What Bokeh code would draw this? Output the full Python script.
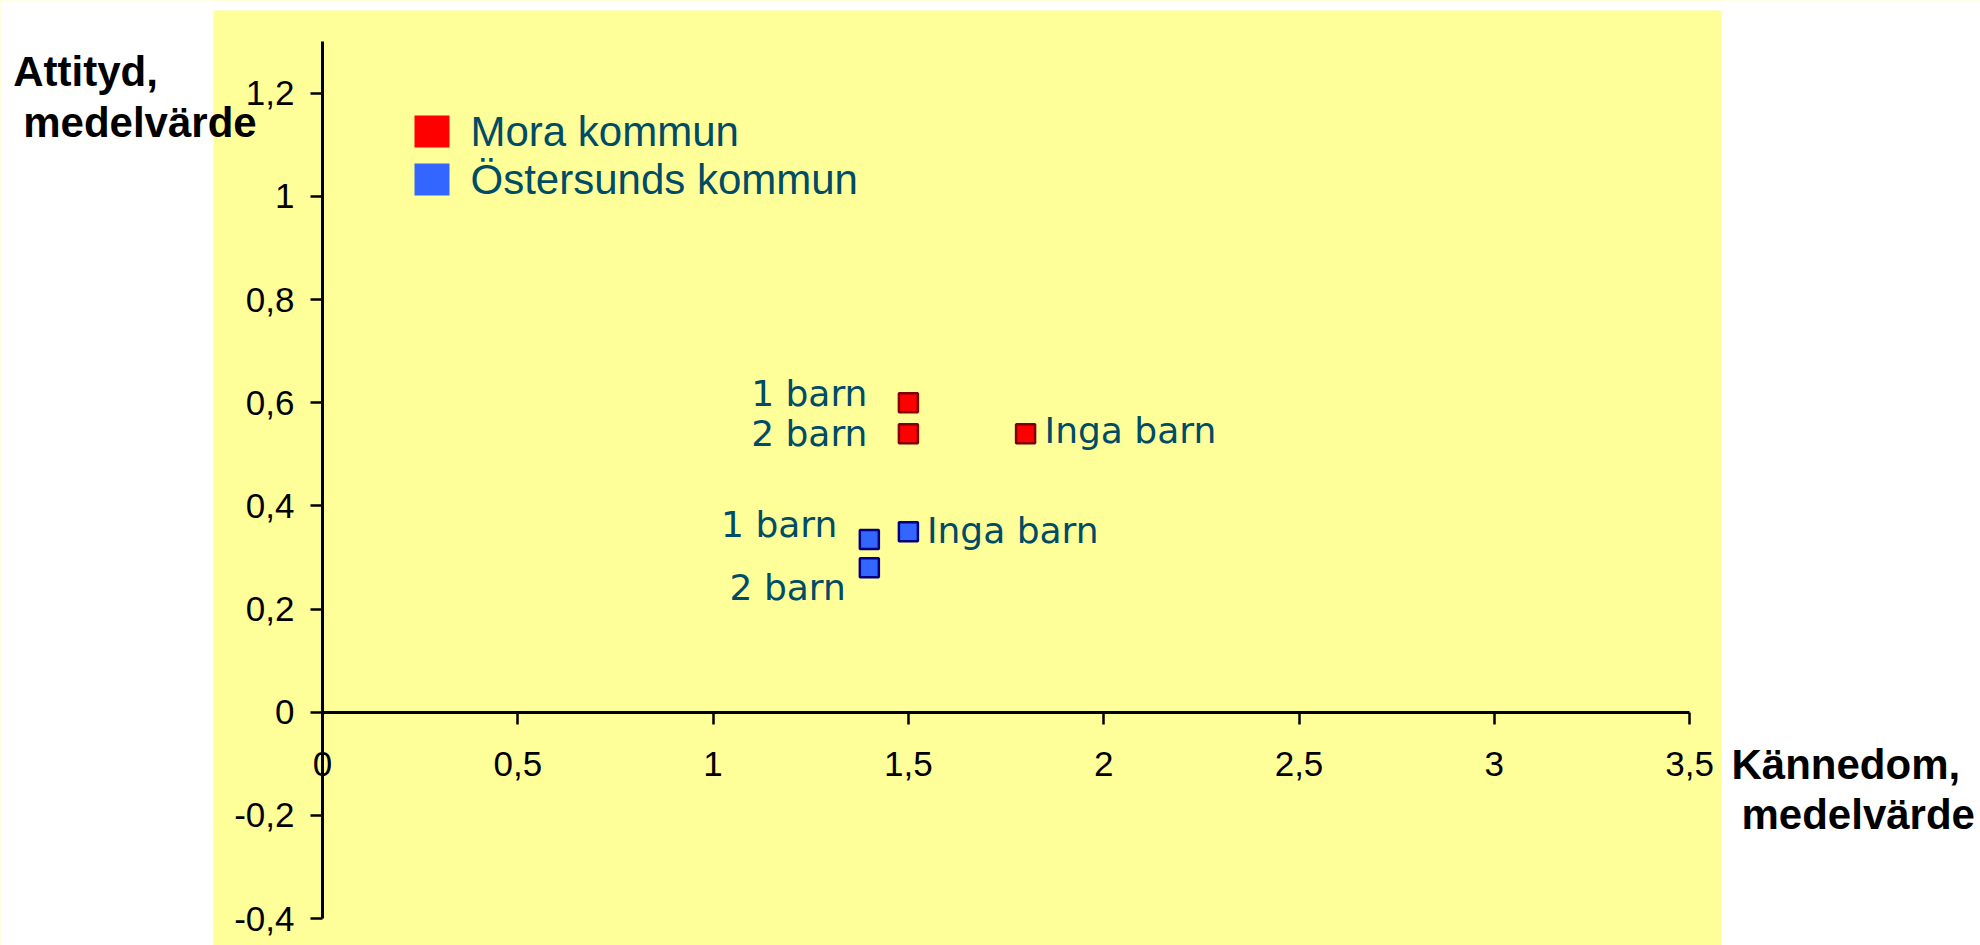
from bokeh.plotting import figure
from bokeh.models import (Range1d, FixedTicker, CustomJSTickFormatter, ColumnDataSource,
                          Label, LabelSet, BoxAnnotation)
from bokeh.core.properties import value
from bokeh.embed import file_html
from bokeh.resources import INLINE

# ---------------- data ----------------
categories = ["1 barn", "2 barn", "Inga barn"]
series_names = ["Mora kommun", "Östersunds kommun"]
mora_x = [1.5, 1.5, 1.8]
mora_y = [0.60, 0.54, 0.54]
ost_x = [1.4, 1.4, 1.5]
ost_y = [0.335, 0.28, 0.35]
x_ticks = [0, 0.5, 1, 1.5, 2, 2.5, 3, 3.5]
y_ticks = [-0.4, -0.2, 0, 0.2, 0.4, 0.6, 0.8, 1.0, 1.2]
x_title = ["Kännedom,", "medelvärde"]
y_title = ["Attityd,", "medelvärde"]

# ---------------- geometry / style ----------------
W, H = 1980, 945
PL, PR, PT = 213, 1721, 10                  # yellow panel edges (px)
X0, XS = 322.0, 390.6                        # px of x=0, px per unit
Y0, YS = 711.7, 515.8                        # px of y=0, px per unit
LBL_SHIFT = 16                               # baseline correction for Label (px)

def dx(px):
    return (px - X0) / XS

def dy(px):
    return (Y0 - px) / YS

YELLOW = "#FFFF99"
TEXT = "#004C66"
FONT = "Liberation Sans"

p = figure(width=W, height=H, output_backend="svg", toolbar_location=None,
           x_range=Range1d(dx(0), dx(W)), y_range=Range1d(dy(H), dy(0)),
           min_border=0)
p.background_fill_color = YELLOW
p.border_fill_color = "white"
p.outline_line_color = None
p.grid.visible = False

# white surroundings of the yellow panel
for kw in (dict(right=dx(PL)), dict(left=dx(PR)), dict(bottom=dy(PT))):
    p.add_layout(BoxAnnotation(fill_color="white", fill_alpha=1, line_color=None,
                               level="underlay", **kw))

fmt = CustomJSTickFormatter(code="return (Math.round(tick*10)/10).toString().replace('.', ',');")

xa = p.xaxis[0]
xa.fixed_location = 0
xa.bounds = (x_ticks[0], x_ticks[-1])
xa.ticker = FixedTicker(ticks=x_ticks)
xa.formatter = fmt
xa.major_label_standoff = 28

ya = p.yaxis[0]
ya.fixed_location = 0
ya.bounds = (y_ticks[0], 1.3)
ya.ticker = FixedTicker(ticks=y_ticks)
ya.formatter = fmt
ya.major_label_standoff = 16

for ax in (xa, ya):
    ax.axis_line_width = 3
    ax.axis_line_color = "black"
    ax.major_tick_line_width = 2.5
    ax.major_tick_line_color = "black"
    ax.major_tick_out = 12
    ax.major_tick_in = 0
    ax.minor_tick_line_color = None
    ax.major_label_text_font = FONT
    ax.major_label_text_font_size = "35px"
    ax.major_label_text_color = "black"

# ---------------- points ----------------
series = [
    (series_names[0], mora_x, mora_y, "#FF0000", "#800000"),
    (series_names[1], ost_x, ost_y, "#3366FF", "#000080"),
]

# label placement (align, x offset px, y offset px up)
label_place = {
    series_names[0]: {"1 barn": ("right", -41, 9), "2 barn": ("right", -41, 0),
                      "Inga barn": ("left", 19, 3)},
    series_names[1]: {"1 barn": ("right", -32, 15), "2 barn": ("right", -23.5, -20),
                      "Inga barn": ("left", 18.5, 1)},
}

for name, xs, ys, fill, edge in series:
    src = ColumnDataSource(dict(x=xs, y=ys, cat=categories))
    p.scatter("x", "y", source=src, marker="square", size=19,
              fill_color=fill, line_color=edge, line_width=2.5)
    for align in ("left", "right"):
        sel = [i for i, c in enumerate(categories) if label_place[name][c][0] == align]
        if not sel:
            continue
        lsrc = ColumnDataSource(dict(
            x=[xs[i] for i in sel], y=[ys[i] for i in sel],
            text=[categories[i] for i in sel],
            ox=[label_place[name][categories[i]][1] for i in sel],
            oy=[label_place[name][categories[i]][2] for i in sel]))
        p.add_layout(LabelSet(x="x", y="y", text="text", source=lsrc,
                              x_offset="ox", y_offset="oy", text_align=align,
                              text_baseline="middle", text_font=value("DejaVu Sans"),
                              text_font_size="36px", text_color=TEXT))

# ---------------- legend (swatches + labels) ----------------
leg_swatch = [(115, 147), (163, 195)]       # top/bottom px of each swatch
for (name, xs, ys, fill, edge), (top, bot) in zip(series, leg_swatch):
    p.add_layout(BoxAnnotation(left=dx(414), right=dx(449), top=dy(top), bottom=dy(bot),
                               fill_color=fill, fill_alpha=1, line_color=None))
    p.add_layout(Label(x=dx(470), y=dy(bot - LBL_SHIFT), text=name, text_font=FONT,
                       text_font_size="42px", text_color=TEXT, text_align="left",
                       text_baseline="alphabetic"))

# ---------------- axis titles ----------------
title_kw = dict(text_font=FONT, text_font_size="42px", text_font_style="bold",
                text_color="black", text_align="left", text_baseline="alphabetic")
p.add_layout(Label(x=dx(12.7), y=dy(89.3 - LBL_SHIFT - 2), text=y_title[0], **title_kw))
p.add_layout(Label(x=dx(22.7), y=dy(137 - LBL_SHIFT + 1), text=y_title[1], **title_kw))
p.add_layout(Label(x=dx(1731), y=dy(780 - LBL_SHIFT), text=x_title[0], **title_kw))
p.add_layout(Label(x=dx(1741), y=dy(830 - LBL_SHIFT), text=x_title[1], **title_kw))

open("out.html", "w").write(file_html(p, INLINE))
